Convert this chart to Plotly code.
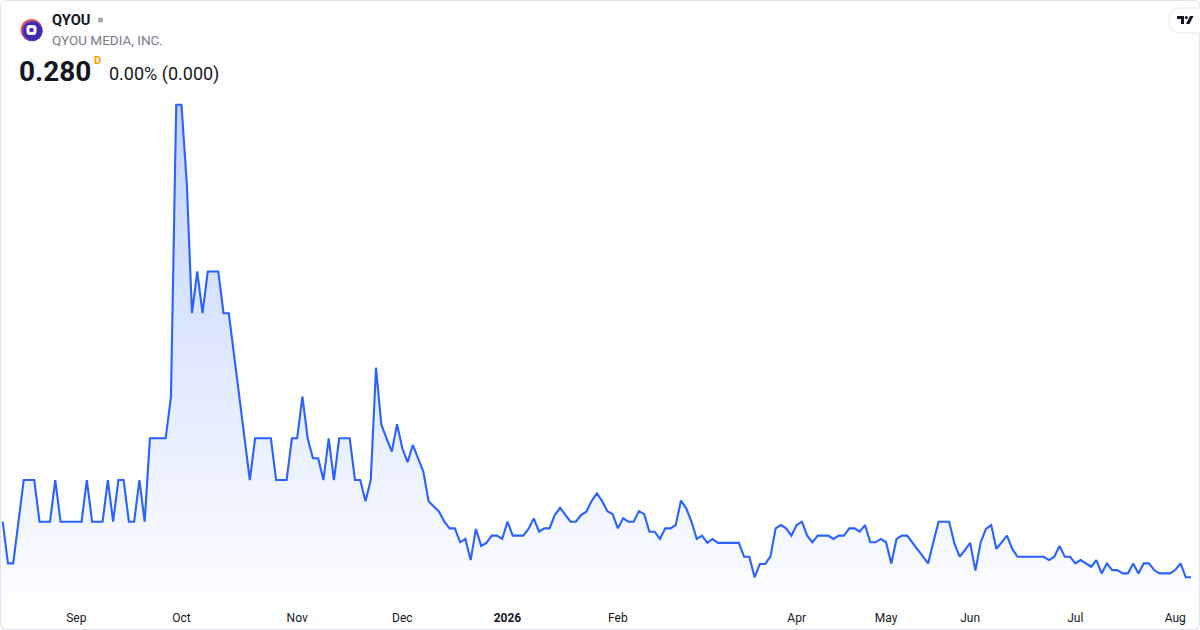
import plotly.graph_objects as go

# daily closes, one per bar
prices = [
    0.300, 0.285, 0.285, 0.300, 0.315, 0.315, 0.315, 0.300, 0.300, 0.300,
    0.315, 0.300, 0.300, 0.300, 0.300, 0.300, 0.315, 0.300, 0.300, 0.300,
    0.315, 0.300, 0.315, 0.315, 0.300, 0.300, 0.315, 0.300, 0.330, 0.330,
    0.330, 0.330, 0.345, 0.450, 0.450, 0.422, 0.375, 0.390, 0.375, 0.390,
    0.390, 0.390, 0.375, 0.375, 0.360, 0.345, 0.330, 0.315, 0.330, 0.330,
    0.330, 0.330, 0.315, 0.315, 0.315, 0.330, 0.330, 0.345, 0.330, 0.3228,
    0.3228, 0.315, 0.330, 0.315, 0.330, 0.330, 0.330, 0.315, 0.315, 0.3074,
    0.315, 0.3554, 0.335, 0.330, 0.3252, 0.3351, 0.3264, 0.3214, 0.3276, 0.3228,
    0.318, 0.3074, 0.3054, 0.3036, 0.300, 0.2976, 0.2976, 0.2926, 0.2938, 0.2862,
    0.2974, 0.2913, 0.2924, 0.295, 0.295, 0.2938, 0.300, 0.295, 0.295, 0.295,
    0.2974, 0.3012, 0.2964, 0.2976, 0.2976, 0.3024, 0.305, 0.3027, 0.300, 0.300,
    0.3024, 0.3036, 0.3074, 0.3102, 0.3074, 0.3038, 0.3027, 0.2976, 0.3012, 0.300,
    0.300, 0.3038, 0.3027, 0.2964, 0.2964, 0.2938, 0.2976, 0.2976, 0.2988, 0.3076,
    0.3048, 0.300, 0.2938, 0.295, 0.2924, 0.2938, 0.2924, 0.2924, 0.2924, 0.2924,
    0.2924, 0.2874, 0.2874, 0.280, 0.2848, 0.2848, 0.2874, 0.2976, 0.2988, 0.2976,
    0.295, 0.2988, 0.300, 0.295, 0.2926, 0.295, 0.295, 0.295, 0.2938, 0.295,
    0.295, 0.2976, 0.2976, 0.2964, 0.2988, 0.2926, 0.2926, 0.2938, 0.2926, 0.285,
    0.2938, 0.295, 0.295, 0.2925, 0.290, 0.2875, 0.285, 0.2927, 0.300, 0.300,
    0.300, 0.2922, 0.2874, 0.2898, 0.2924, 0.2824, 0.2926, 0.2974, 0.2988, 0.2902,
    0.2926, 0.295, 0.2902, 0.2874, 0.2874, 0.2874, 0.2874, 0.2874, 0.2874, 0.2862,
    0.2874, 0.2913, 0.2874, 0.2874, 0.285, 0.2862, 0.285, 0.2838, 0.2862, 0.2814,
    0.285, 0.2826, 0.2826, 0.2814, 0.2814, 0.285, 0.2814, 0.285, 0.285, 0.2826,
    0.2814, 0.2814, 0.2814, 0.2826, 0.285, 0.280, 0.280,
]
bars = list(range(len(prices)))

# first bar of each month
month_bars = [14, 34, 56, 76, 96, 117, 151, 168, 184, 204, 223]
month_labels = ["Sep", "Oct", "Nov", "Dec", "<b>2026</b>", "Feb",
                "Apr", "May", "Jun", "Jul", "Aug"]

W, H = 1200, 630
MB = 23                      # bottom margin for the time scale
PH = H - MB                  # plot height in px

y_lo, y_hi = 0.26932, 0.48766
x_lo, x_hi = -0.5135, 227.71

LINE = "#2962FF"
TEXT = "#131722"
GREY = "#787B86"


def px(x, y):
    # pixel -> paper coords
    return x / W, (PH - y) / PH


def path(points):
    s = ""
    for cmd, x, y in points:
        a, b = px(x, y)
        s += f"{cmd} {a:.5f},{b:.5f} "
    return s + "Z"


def rounded_rect(x0, y0, x1, y1, r):
    def p(x, y):
        a, b = px(x, y)
        return f"{a:.5f},{b:.5f}"
    s = f"M {p(x0 + r, y0)} L {p(x1 - r, y0)} Q {p(x1, y0)} {p(x1, y0 + r)} "
    s += f"L {p(x1, y1 - r)} Q {p(x1, y1)} {p(x1 - r, y1)} "
    s += f"L {p(x0 + r, y1)} Q {p(x0, y1)} {p(x0, y1 - r)} "
    s += f"L {p(x0, y0 + r)} Q {p(x0, y0)} {p(x0 + r, y0)} Z"
    return s


def circle(x, y, r, color):
    a0, b0 = px(x - r, y - r)
    a1, b1 = px(x + r, y + r)
    return dict(type="circle", xref="paper", yref="paper",
                x0=a0, y0=b1, x1=a1, y1=b0,
                fillcolor=color, line=dict(width=0))


fig = go.Figure()

fig.add_trace(go.Scatter(
    x=bars, y=prices, mode="lines",
    line=dict(color=LINE, width=2.1),
    fill="tozeroy",
    fillgradient=dict(
        type="vertical",
        colorscale=[[0, "rgba(41,98,255,0.01)"], [1, "rgba(41,98,255,0.28)"]],
        start=y_lo, stop=max(prices),
    ),
    hoverinfo="skip",
))

shapes = []
# outer frame
shapes.append(dict(type="path", xref="paper", yref="paper",
                   path=rounded_rect(0.5, 0.5, 1199.5, 629.5, 6),
                   line=dict(color="#E0E3EB", width=1), layer="above"))

# company logo: orange rim top-left, purple body, white bubble
cx, cy = 31.5, 30
shapes.append(circle(cx, cy, 11, "#E8603C"))
shapes.append(circle(cx + 0.8, cy + 0.8, 10.4, "#7A3BC4"))
shapes.append(circle(cx + 1.2, cy + 1.2, 9.4, "#3D2BB0"))
shapes.append(dict(type="path", xref="paper", yref="paper",
                   path=rounded_rect(cx - 5, cy - 5, cx + 5, cy + 5, 3.5),
                   fillcolor="white", line=dict(width=0)))
shapes.append(circle(cx, cy, 2.3, "#4A2DB8"))

# market status dot
shapes.append(circle(100.5, 20, 2.6, "#A3A6AF"))

# TradingView badge, top right
shapes.append(dict(type="path", xref="paper", yref="paper",
                   path=rounded_rect(1169, 8, 1212, 33, 12),
                   fillcolor="white", line=dict(color="#E6E8EE", width=1)))
shapes.append(dict(type="path", xref="paper", yref="paper",
                   path=path([("M", 1177, 16), ("L", 1184, 16), ("L", 1184, 24),
                              ("L", 1181, 24), ("L", 1181, 19), ("L", 1177, 19)]),
                   fillcolor=TEXT, line=dict(width=0)))
shapes.append(circle(1186.3, 17.5, 1.5, TEXT))
shapes.append(dict(type="path", xref="paper", yref="paper",
                   path=path([("M", 1190, 16), ("L", 1193.5, 16), ("L", 1189.5, 24),
                              ("L", 1186, 24)]),
                   fillcolor=TEXT, line=dict(width=0)))


def label(x, y, text, size, color, bold=False):
    a, b = px(x, y)
    return dict(xref="paper", yref="paper", x=a, y=b, xanchor="left",
                yanchor="middle", showarrow=False,
                text=f"<b>{text}</b>" if bold else text,
                font=dict(family="Roboto", size=size, color=color))


annotations = [
    label(50, 20, "QYOU", 14.6, TEXT, bold=True),
    label(50, 40, "QYOU MEDIA, INC.", 13.5, GREY),
    label(17, 72, "0.280", 28, TEXT, bold=True),
    label(92, 61, "D", 11, "#FF9800", bold=True),
    label(107, 74, "0.00% (0.000)", 18, TEXT),
]

fig.update_layout(
    width=W, height=H,
    margin=dict(l=0, r=0, t=0, b=MB),
    paper_bgcolor="white", plot_bgcolor="white",
    showlegend=False,
    shapes=shapes,
    annotations=annotations,
    font=dict(family="Roboto", color=TEXT),
    xaxis=dict(range=[x_lo, x_hi], tickvals=month_bars, ticktext=month_labels,
               showgrid=False, zeroline=False, showline=False, ticks="",
               ticklabelstandoff=2,
               tickfont=dict(family="Roboto", size=12, color=TEXT),
               fixedrange=True),
    yaxis=dict(range=[y_lo, y_hi], visible=False, fixedrange=True),
)

# drop the default 8px page margin so the figure sits at the window corner
fig.write_html("out.html", config={"displayModeBar": False},
               post_script="document.body.style.margin='0';")
